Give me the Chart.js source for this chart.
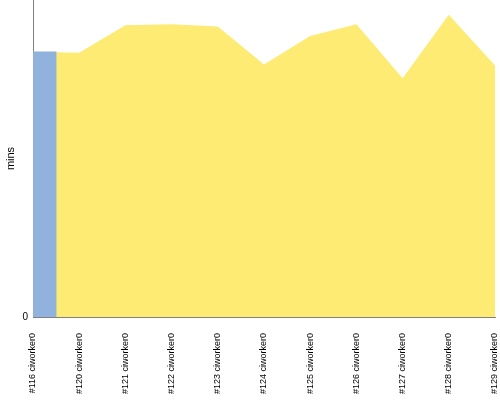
<!DOCTYPE html>
<html>
<head>
<meta charset="utf-8">
<script src="https://cdn.jsdelivr.net/npm/chart.js@4/dist/chart.umd.min.js"></script>
<style>
  html, body { margin: 0; padding: 0; background: #fff; }
</style>
</head>
<body>
<canvas id="chart" width="500" height="400"></canvas>
<script>
var builds = ["#116 ciworker0", "#120 ciworker0", "#121 ciworker0", "#122 ciworker0",
  "#123 ciworker0", "#124 ciworker0", "#125 ciworker0", "#126 ciworker0",
  "#127 ciworker0", "#128 ciworker0", "#129 ciworker0"];
var durations = [25.1, 25.0, 27.6, 27.7, 27.5, 23.9, 26.6, 27.7, 22.6, 28.6, 23.8];
var firstBuild = [25.1, null, null, null, null, null, null, null, null, null, null];
var yTicks = [0];

var ctx = document.getElementById("chart").getContext("2d");
var chart = new Chart(ctx, {
  type: "line",
  data: {
    labels: builds,
    datasets: [
      {
        type: "bar",
        data: firstBuild,
        backgroundColor: "#90b2dc",
        borderWidth: 0,
        barPercentage: 1,
        categoryPercentage: 1,
        order: 0
      },
      {
        data: durations,
        backgroundColor: "#fdeb73",
        borderWidth: 0,
        fill: "origin",
        pointRadius: 0,
        tension: 0,
        order: 1
      }
    ]
  },
  options: {
    responsive: false,
    animation: false,
    layout: { padding: { top: 0, right: 5, left: 0, bottom: 0 } },
    plugins: { legend: { display: false }, tooltip: { enabled: false } },
    scales: {
      x: {
        type: "category",
        offset: false,
        grid: { display: false, drawTicks: false },
        border: { display: true, color: "#808080", width: 1 },
        ticks: {
          minRotation: 90,
          maxRotation: 90,
          autoSkip: false,
          padding: 16,
          color: "#000",
          font: { family: "Liberation Sans", size: 9 }
        },
        afterFit: function (s) {
          s.height = 83;
          s.paddingLeft = 0;
          s.paddingRight = 0;
        }
      },
      y: {
        min: 0,
        max: 30,
        grid: { display: false, drawTicks: false },
        border: { display: true, color: "#808080", width: 1 },
        afterBuildTicks: function (s) { s.ticks = yTicks.map(function (v) { return { value: v }; }); },
        ticks: { color: "#000", padding: 5, font: { family: "Liberation Sans", size: 10 } },
        title: { display: true, text: "mins", color: "#000", padding: { top: 4, bottom: 0 }, font: { family: "Liberation Sans", size: 11 } },
        afterFit: function (s) {
          s.width = 33;
          s.paddingTop = 0;
          s.paddingBottom = 0;
        }
      }
    }
  }
});
</script>
</body>
</html>
